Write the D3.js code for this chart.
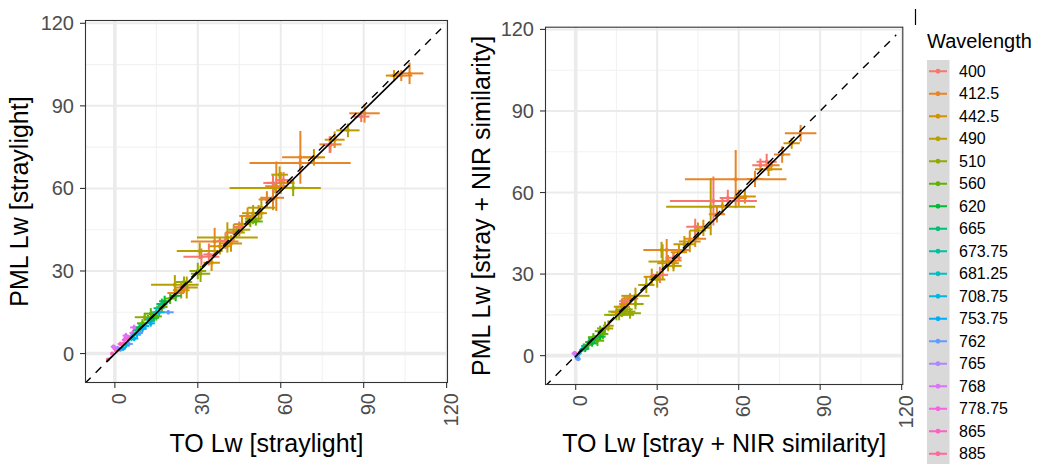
<!DOCTYPE html>
<meta charset="utf-8">
<style>
  body { margin: 0; background: #fff; }
  text { font-family: "Liberation Sans", Arial, sans-serif; }
  .tick-label { font-size: 20px; fill: #4d4d4d; }
  .axis-title { font-size: 25px; fill: #000; }
  .legend-text { font-size: 16px; fill: #000; }
  .legend-title { font-size: 20px; fill: #000; }
</style>
<svg width="1037" height="464"></svg>
<script src="https://cdn.jsdelivr.net/npm/d3@7"></script>
<script>

var svg = d3.select("svg");

// wavelength levels (legend order)
var wavelengths = ["400","412.5","442.5","490","510","560","620","665","673.75",
  "681.25","708.75","753.75","762","765","768","778.75","865","885"];

var gridMajor = [0, 30, 60, 90, 120];
var gridMinor = [15, 45, 75, 105];

// [wavelength index, TO Lw, PML Lw, TO error, PML error]
var strayPoints = [
  [17,-2.5,-2.2,0.6,0.5],[17,0.5,1.0,0.8,0.7],[17,3,3.5,0.8,0.8],
  [16,-1,0,0.7,0.6],[16,2,3.5,1,0.8],[16,5,5.6,1,1],
  [15,0,1.8,0.8,0.8],[15,3.5,5,1,1],[15,6.5,7.5,1.2,1],
  [14,-0.5,2.5,1,0.8],[14,4,6.5,1.2,1],[14,7,9.5,1.5,1],
  [13,1,2,0.8,0.8],[13,6,6.2,1,1],[13,8.5,8.3,1.2,1],
  [12,2,1.5,1,0.8],[12,5,3.5,1.5,1],[12,9,7.5,1.2,1],[12,19.3,15,2,0.8],
  [11,3,1.8,1,0.8],[11,7,5.5,1.5,1],[11,10,9,1.5,1.2],[11,13,11,1.5,1.2],
  [10,4,3,1,1],[10,8,7,1.5,1.2],[10,11,10,1.5,1.2],[10,16,15,2,1.5],
  [9,6,5.5,1.2,1],[9,10,10.5,1.5,1.2],[9,15,15,2,1.5],[9,17,17,2,1.5],
  [8,7,7,1.2,1],[8,12,12.5,1.5,1.5],[8,16,16.5,2,1.5],
  [7,8,8.5,1.5,1.2],[7,13,12,1.5,1.5],[7,17,18,2,2],
  [6,9,9.5,1.5,1.5],[6,14,13,2,1.5],[6,18,19,2,2],[6,22,21,2,2],
  [5,10,11,2,1.5],[5,13,14.5,2.5,2],[5,15,13.5,2,1.5],[5,20,20,2,2],[5,49,48,2,2],[5,51,48,2.5,1.5],
  [4,10.8,13.2,3.6,1.5],[4,17,17,2,2],[4,25,26,3,2],[4,31,29,3.5,3],[4,30,30,3,3],
  [4,44,44,3,2],[4,50,49,3,2],[4,64.5,60.2,4,3],
  [3,21.7,25,8.6,3.5],[3,30.7,37.3,8.3,3],[3,40.7,42.2,11,5.5],[3,45,45,4,2.5],
  [3,50,51,4,3],[3,53,53,5,4],[3,58,60.2,16.5,2],[3,59.6,65,3,3],[3,84.3,81.1,4.2,2.5],[3,26,24,4,4],
  [2,24,23,3,3],[2,35,33,3,3],[2,42,40,4,3],[2,46,47,3,3],[2,52,51,3,3],[2,60,62,5,4],
  [2,72,71.3,4,3],[2,79.5,77.7,3.6,3],[2,101,101,3,2],[2,38,39,4,3],
  [1,22,22,3,2],[1,36.1,40.7,8.6,5],[1,43,44,3,3],[1,48,50,3,3],[1,57.2,56.6,4,4.5],
  [1,67.1,71.3,6.6,9.6],[1,67,69.2,18.3,2.5],[1,58.4,60.8,4,9],[1,78,76,4,3],
  [1,90.3,87.3,5.5,3.4],[1,106.6,101.8,5,3.9],[1,103.6,101,4,2],[1,55,56,3,3],
  [0,25,24,2,2],[0,31.3,35.2,6.5,3],[0,40,41,3,3],[0,45,46,2,2],[0,57.2,62,3.5,3],
  [0,61,63,3,3],[0,77.7,75.9,2,3],[0,89.1,86.1,3,2],[0,34,36,2,4]
];

var nirPoints = [
  [17,0,0.5,0.5,0.5],[16,-0.3,1,0.6,0.5],[15,0.5,-0.5,0.8,0.8],[14,-0.5,0.8,1,0.8],
  [14,0.8,0.2,0.8,0.6],[13,0.5,-1,0.8,0.8],[12,1,-1.2,0.8,0.8],[11,0.3,-0.3,0.5,0.5],
  [10,1.5,1,0.5,0.5],[9,2,2,0.7,0.7],[8,2.5,2.3,0.8,0.8],[7,3,3.5,1,1],[7,4,3,1,1],
  [6,3.5,2.5,1.5,1.2],[6,5,5,1.5,1.5],[6,7,6,2,1.5],[6,9,7,2,1.5],[6,6,4.5,1.8,1.2],
  [5,4.5,4,1.5,1.5],[5,6.5,6.8,2,1.5],[5,8,5.5,2.5,2],[5,10,8,2,2],[5,9,9,2,2],
  [4,10.8,10,3,2.5],[4,15,15,3,2],[4,17,16.2,5,2],[4,20,15.6,4,2],[4,18,17,3,2],
  [4,22,19,3,2],[4,16,15,5.5,2],
  [3,12,11,2,2],[3,17,18,3,3],[3,22,22,5.2,3],[3,26,26,3,3],[3,32,34.6,5.2,6.4],
  [3,30,28,3,3],[3,36,33,3,2],[3,40,41,4,3],[3,45,46,3,3],[3,49.7,54.8,16.4,10.5],[3,31.6,38.9,3,3],
  [2,15,16,2,2],[2,19,19,3,3],[2,28,29,3,3],[2,34,34,4,3],[2,38,38,3,3],[2,42,42,4,4],
  [2,47,47,3,3],[2,54,55,3,3],[2,62.3,58.5,4,2.5],[2,71,68.6,5,2.5],[2,79.5,78.1,3,2],
  [1,17.5,18,2,2],[1,20,21,3,2],[1,33.5,38.9,8.6,4],[1,36,35,3,3],[1,44,43,4,3],
  [1,52,52,3,3],[1,58.9,64.9,18.7,10.7],[1,60,58,3,3],[1,66,65,3,3],[1,72,70,3,2],
  [1,76,74,3,3],[1,82.8,81.8,5.8,3],
  [0,18,20,2,2],[0,31,29.7,3,3],[0,36,36,3,2],[0,44,47.4,3.3,3],[0,50.7,56.9,16,9],
  [0,56,58,3,3],[0,68,70,3,2.5],[0,70.3,71.3,3.7,3]
];

// linear fits drawn as solid black lines
var fitSlope = [0.983, 0.986];
var fitIntercept = [-0.05, -0.3];
var fitFrom = [-3, -0.3];
var fitTo = [106.6, 82.8];

// ggplot-style hue palette (polar LUV, l = 65, c = 100)
function hueColor(h) {
  var L = 65, C = 100, hr = h * Math.PI / 180;
  var U = C * Math.cos(hr), V = C * Math.sin(hr);
  var Xn = 95.047, Yn = 100, Zn = 108.883;
  var Y = Yn * Math.pow((L + 16) / 116, 3);
  var den = Xn + 15 * Yn + 3 * Zn;
  var u = U / (13 * L) + 4 * Xn / den, v = V / (13 * L) + 9 * Yn / den;
  var X = 9 * Y * u / (4 * v);
  var Z = Y * (12 - 3 * u - 20 * v) / (4 * v);
  var x = X / 100, y = Y / 100, z = Z / 100;
  var rgb = [
    3.240479 * x - 1.537150 * y - 0.498535 * z,
    -0.969256 * x + 1.875992 * y + 0.041556 * z,
    0.055648 * x - 0.204043 * y + 1.057311 * z
  ].map(function(c) {
    c = c <= 0.0031308 ? 12.92 * c : 1.055 * Math.pow(c, 1 / 2.4) - 0.055;
    return Math.round(255 * Math.max(0, Math.min(1, c)));
  });
  return d3.rgb(rgb[0], rgb[1], rgb[2]).formatHex();
}
var color = d3.scaleOrdinal()
    .domain(d3.range(wavelengths.length))
    .range(wavelengths.map(function(d, i) { return hueColor(15 + i * 360 / wavelengths.length); }));

function panel(cfg) {
  var x = d3.scaleLinear().domain(cfg.xDomain).range([cfg.left, cfg.right]);
  var y = d3.scaleLinear().domain(cfg.yDomain).range([cfg.bottom, cfg.top]);
  var g = svg.append("g");

  g.append("clipPath").attr("id", "clip" + cfg.id)
    .append("rect")
      .attr("x", cfg.left).attr("y", cfg.top)
      .attr("width", cfg.right - cfg.left).attr("height", cfg.bottom - cfg.top);

  var grid = g.append("g");
  gridMinor.forEach(function(v) {
    grid.append("line").attr("x1", x(v)).attr("x2", x(v)).attr("y1", cfg.top).attr("y2", cfg.bottom)
      .attr("stroke", "#f2f2f2").attr("stroke-width", 1.1);
    grid.append("line").attr("y1", y(v)).attr("y2", y(v)).attr("x1", cfg.left).attr("x2", cfg.right)
      .attr("stroke", "#f2f2f2").attr("stroke-width", 1.1);
  });
  gridMajor.forEach(function(v) {
    var w = v === 0 ? 3.6 : 2;
    grid.append("line").attr("x1", x(v)).attr("x2", x(v)).attr("y1", cfg.top).attr("y2", cfg.bottom)
      .attr("stroke", "#ebebeb").attr("stroke-width", w);
    grid.append("line").attr("y1", y(v)).attr("y2", y(v)).attr("x1", cfg.left).attr("x2", cfg.right)
      .attr("stroke", "#ebebeb").attr("stroke-width", w);
  });

  var marks = g.append("g").attr("clip-path", "url(#clip" + cfg.id + ")");
  var pts = cfg.data.slice().sort(function(a, b) { return b[0] - a[0]; });

  marks.selectAll(".ev").data(pts).enter().append("line")
      .attr("x1", function(d) { return x(d[1]); })
      .attr("x2", function(d) { return x(d[1]); })
      .attr("y1", function(d) { return y(d[2] - d[4]); })
      .attr("y2", function(d) { return y(d[2] + d[4]); })
      .attr("stroke", function(d) { return color(d[0]); })
      .attr("stroke-width", 2);
  marks.selectAll(".eh").data(pts).enter().append("line")
      .attr("y1", function(d) { return y(d[2]); })
      .attr("y2", function(d) { return y(d[2]); })
      .attr("x1", function(d) { return x(d[1] - d[3]); })
      .attr("x2", function(d) { return x(d[1] + d[3]); })
      .attr("stroke", function(d) { return color(d[0]); })
      .attr("stroke-width", 2);
  marks.selectAll("circle").data(pts).enter().append("circle")
      .attr("cx", function(d) { return x(d[1]); })
      .attr("cy", function(d) { return y(d[2]); })
      .attr("r", 2)
      .attr("fill", function(d) { return color(d[0]); });

  // 1:1 line
  marks.append("line")
      .attr("x1", x(cfg.xDomain[0])).attr("y1", y(cfg.xDomain[0]))
      .attr("x2", x(118)).attr("y2", y(118))
      .attr("stroke", "#000").attr("stroke-width", 1.4)
      .attr("stroke-dasharray", "8,7");
  // fit line
  var k = cfg.id;
  marks.append("line")
      .attr("x1", x(fitFrom[k])).attr("y1", y(fitIntercept[k] + fitSlope[k] * fitFrom[k]))
      .attr("x2", x(fitTo[k])).attr("y2", y(fitIntercept[k] + fitSlope[k] * fitTo[k]))
      .attr("stroke", "#000").attr("stroke-width", 1.6);

  // border
  g.append("rect")
      .attr("x", cfg.left + 0.5).attr("y", cfg.top + 0.5)
      .attr("width", cfg.right - cfg.left - 1).attr("height", cfg.bottom - cfg.top - 1)
      .attr("fill", "none").attr("stroke", "#333").attr("stroke-width", 1.1);

  // ticks and labels
  gridMajor.forEach(function(v) {
    g.append("line").attr("x1", cfg.left - 5).attr("x2", cfg.left).attr("y1", y(v)).attr("y2", y(v))
      .attr("stroke", "#333").attr("stroke-width", 1.1);
    g.append("text").attr("class", "tick-label")
      .attr("x", cfg.left - 11).attr("y", y(v)).attr("dy", "0.35em")
      .attr("text-anchor", "end").text(v);
    g.append("line").attr("y1", cfg.bottom).attr("y2", cfg.bottom + 5).attr("x1", x(v)).attr("x2", x(v))
      .attr("stroke", "#333").attr("stroke-width", 1.1);
    g.append("text").attr("class", "tick-label")
      .attr("transform", "translate(" + (x(v) + 4) + "," + (cfg.bottom + 10) + ") rotate(-90)")
      .attr("dy", "0.35em").attr("text-anchor", "end").text(v);
  });

  g.append("text").attr("class", "axis-title")
      .attr("x", (cfg.left + cfg.right) / 2).attr("y", 452)
      .attr("text-anchor", "middle").text(cfg.xTitle);
  g.append("text").attr("class", "axis-title")
      .attr("transform", "translate(" + cfg.yTitleX + "," + ((cfg.top + cfg.bottom) / 2) + ") rotate(-90)")
      .attr("text-anchor", "middle").text(cfg.yTitle);
}

panel({ id: 0, data: strayPoints, left: 85, right: 448, top: 20, bottom: 383,
  xDomain: [-10.8, 120.5], yDomain: [-10.7, 121.2],
  xTitle: "TO Lw [straylight]", yTitle: "PML Lw [straylight]", yTitleX: 28 });
panel({ id: 1, data: nirPoints, left: 545, right: 903.3, top: 26.7, bottom: 385,
  xDomain: [-11.3, 120.6], yDomain: [-10.8, 121],
  xTitle: "TO Lw [stray + NIR similarity]", yTitle: "PML Lw [stray + NIR similarity]", yTitleX: 490 });

// stray mark at top right
svg.append("line").attr("x1", 915.5).attr("x2", 915.5).attr("y1", 9).attr("y2", 25)
  .attr("stroke", "#000").attr("stroke-width", 1.2);

// legend
var legend = svg.append("g");
var rowH = 22.5, legTop = 60;
legend.append("text").attr("class", "legend-title").attr("x", 927).attr("y", 48).text("Wavelength");
legend.append("rect").attr("x", 927).attr("y", legTop).attr("width", 22.5)
  .attr("height", rowH * wavelengths.length).attr("fill", "#d9d9d9");
var rows = legend.selectAll(".row").data(wavelengths).enter().append("g")
  .attr("transform", function(d, i) { return "translate(0," + (legTop + rowH * (i + 0.5)) + ")"; });
rows.append("line").attr("x1", 929).attr("x2", 947).attr("y1", 0).attr("y2", 0)
  .attr("stroke", function(d, i) { return color(i); }).attr("stroke-width", 2);
rows.append("circle").attr("cx", 938).attr("cy", 0).attr("r", 2.4)
  .attr("fill", function(d, i) { return color(i); });
rows.append("text").attr("class", "legend-text").attr("x", 959).attr("y", 0).attr("dy", "0.35em")
  .text(function(d) { return d; });

</script>
